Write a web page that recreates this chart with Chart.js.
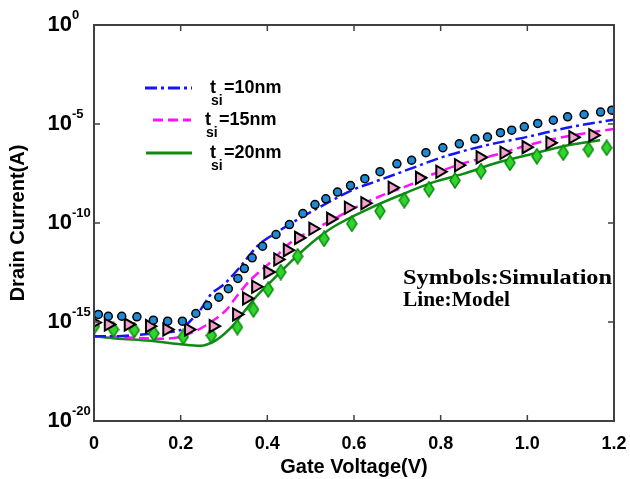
<!DOCTYPE html>
<html>
<head>
<meta charset="utf-8">
<script src="https://cdn.jsdelivr.net/npm/chart.js@4.4.0/dist/chart.umd.min.js"></script>
<style>
  html, body { margin: 0; padding: 0; background: #fff; }
</style>
</head>
<body>
<canvas id="canvasIdVg" width="630" height="479"></canvas>
<script>
// Id-Vg data, current stored as log10(I) in A
// =================================

// symbols: simulation
const simV10 = [0.01, 0.033, 0.064, 0.099, 0.137, 0.170, 0.204, 0.235, 0.262, 0.288, 0.310, 0.332, 0.347, 0.365, 0.389, 0.420, 0.451, 0.482, 0.510, 0.535, 0.562, 0.592, 0.625, 0.660, 0.699, 0.733, 0.766, 0.805, 0.843, 0.879, 0.908, 0.938, 0.964, 0.993, 1.024, 1.060, 1.093, 1.131, 1.169, 1.195];
const simI10 = [-14.62, -14.71, -14.71, -14.74, -14.91, -14.96, -14.96, -14.57, -14.17, -13.75, -13.32, -12.80, -12.30, -11.76, -11.17, -10.58, -10.08, -9.52, -9.07, -8.78, -8.44, -8.11, -7.76, -7.41, -7.01, -6.83, -6.45, -6.20, -6.00, -5.75, -5.66, -5.44, -5.31, -5.14, -4.97, -4.81, -4.64, -4.52, -4.40, -4.30];

const simV15 = [0.0, 0.033, 0.079, 0.128, 0.168, 0.218, 0.275, 0.329, 0.352, 0.373, 0.401, 0.424, 0.446, 0.472, 0.505, 0.546, 0.587, 0.625, 0.688, 0.751, 0.798, 0.841, 0.891, 0.946, 0.997, 1.052, 1.105, 1.151];
const simI15 = [-15.03, -15.13, -15.13, -15.21, -15.38, -15.38, -15.21, -14.62, -13.81, -13.22, -12.48, -11.84, -11.37, -10.75, -10.29, -9.79, -9.23, -9.0, -8.22, -7.72, -7.41, -7.08, -6.68, -6.45, -6.17, -5.95, -5.67, -5.57];

const simV20 = [0.001, 0.045, 0.093, 0.138, 0.206, 0.271, 0.331, 0.368, 0.402, 0.431, 0.470, 0.531, 0.595, 0.660, 0.716, 0.773, 0.833, 0.893, 0.960, 1.022, 1.083, 1.141, 1.183];
const simI20 = [-15.21, -15.38, -15.41, -15.58, -15.75, -15.68, -15.26, -14.37, -13.36, -12.48, -11.68, -10.80, -10.04, -9.40, -8.85, -8.29, -7.85, -7.38, -6.96, -6.63, -6.45, -6.29, -6.20];

// lines: model
const modelV10 = [0, 0.05, 0.1, 0.15, 0.2, 0.22, 0.245, 0.27, 0.3, 0.33, 0.36, 0.38, 0.42, 0.46, 0.5, 0.55, 0.6, 0.65, 0.7, 0.75, 0.8, 0.9, 1.0, 1.1, 1.2];
const modelI10 = [-15.72, -15.72, -15.65, -15.55, -15.4, -15.0, -14.4, -13.6, -13.1, -12.4, -11.6, -11.1, -10.5, -9.95, -9.45, -8.85, -8.3, -7.9, -7.5, -7.1, -6.7, -6.1, -5.65, -5.15, -4.78];

const modelV15 = [0, 0.05, 0.1, 0.15, 0.2, 0.23, 0.26, 0.28, 0.306, 0.333, 0.36, 0.38, 0.41, 0.45, 0.5, 0.55, 0.6, 0.66, 0.73, 0.78, 0.85, 0.93, 1.0, 1.08, 1.2];
const modelI15 = [-15.72, -15.75, -15.8, -15.85, -15.75, -15.5, -15.15, -14.85, -14.37, -13.6, -12.9, -12.5, -11.93, -11.05, -10.4, -9.85, -9.25, -8.65, -8.06, -7.55, -7.0, -6.54, -6.08, -5.67, -5.25];

const modelV20 = [0, 0.05, 0.1, 0.15, 0.2, 0.245, 0.283, 0.32, 0.344, 0.375, 0.413, 0.46, 0.514, 0.552, 0.63, 0.706, 0.782, 0.852, 0.93, 1.006, 1.083, 1.168];
const modelI20 = [-15.72, -15.83, -15.9, -16.0, -16.12, -16.2, -15.9, -15.2, -14.55, -13.7, -12.86, -11.84, -10.8, -10.2, -9.32, -8.6, -7.95, -7.52, -6.96, -6.54, -6.12, -5.82];

// axis ticks
const xTicks = [0, 0.2, 0.4, 0.6, 0.8, 1, 1.2];
const yExponents = [0, -5, -10, -15, -20];

const legendLabels = ['=10nm', '=15nm', '=20nm'];

function pts(xs, ys) {
  return xs.map((x, i) => ({ x: x, y: ys[i] }))
}

// green diamond marker
const diamond = document.createElement('canvas');
diamond.width = 12;
diamond.height = 17;
const dctx = diamond.getContext('2d');
dctx.beginPath();
dctx.moveTo(6, 1); dctx.lineTo(11, 8.5); dctx.lineTo(6, 16); dctx.lineTo(1, 8.5);
dctx.closePath();
dctx.fillStyle = '#2ed52a';
dctx.fill();
dctx.strokeStyle = '#0d8a10';
dctx.lineWidth = 1.5;
dctx.stroke();

const SANS = '"Liberation Sans", Arial, sans-serif';
const SERIF = '"Liberation Serif", "Times New Roman", serif';

// stretch text to a target width (the note is drawn wide)
function wideText(ctx, text, x, y, width) {
  const w = ctx.measureText(text).width;
  ctx.save();
  ctx.translate(x, y);
  ctx.scale(width / w, 1);
  ctx.fillText(text, 0, 0);
  ctx.restore();
}

// frame, inward ticks, exponents, legend, note
const framePlugin = {
  id: 'frame',
  afterDraw(chart) {
    const { ctx, chartArea: a, scales } = chart;
    ctx.save();
    ctx.strokeStyle = '#404040';
    ctx.lineWidth = 2;
    ctx.strokeRect(a.left, a.top, a.right - a.left, a.bottom - a.top);
    ctx.lineWidth = 1.5;
    ctx.beginPath();
    xTicks.forEach(v => {
      const px = scales.x.getPixelForValue(v);
      ctx.moveTo(px, a.bottom); ctx.lineTo(px, a.bottom - 6);
      ctx.moveTo(px, a.top); ctx.lineTo(px, a.top + 6);
    });
    yExponents.forEach(v => {
      const py = scales.y.getPixelForValue(v);
      ctx.moveTo(a.left, py); ctx.lineTo(a.left + 6, py);
      ctx.moveTo(a.right, py); ctx.lineTo(a.right - 6, py);
    });
    ctx.stroke();

    // superscript exponents for 10^n
    ctx.fillStyle = '#000';
    ctx.font = 'bold 13px ' + SANS;
    ctx.textAlign = 'left';
    ctx.textBaseline = 'middle';
    yExponents.forEach(v => {
      const py = scales.y.getPixelForValue(v);
      ctx.fillText(String(v), 72, py - 10);
    });

    // legend
    const rows = [
      { y: 88, x0: 145, x1: 192, color: '#1414ff', dash: [12, 4, 3, 4], tx: 210 },
      { y: 120, x0: 153, x1: 191, color: '#ff10ff', dash: [10, 5], tx: 205 },
      { y: 153, x0: 146, x1: 192, color: '#0f8a12', dash: [], tx: 210 }
    ];
    rows.forEach((r, i) => {
      ctx.setLineDash(r.dash);
      ctx.strokeStyle = r.color;
      ctx.lineWidth = 3;
      ctx.beginPath();
      ctx.moveTo(r.x0, r.y); ctx.lineTo(r.x1, r.y);
      ctx.stroke();
      ctx.setLineDash([]);
      ctx.fillStyle = '#000';
      ctx.textBaseline = 'alphabetic';
      ctx.font = 'bold 18px ' + SANS;
      ctx.fillText('t', r.tx, r.y + 5);
      ctx.font = 'bold 14px ' + SANS;
      ctx.fillText('si', r.tx + 1, r.y + 17);
      ctx.font = 'bold 18px ' + SANS;
      ctx.fillText(legendLabels[i], r.tx + 14, r.y + 5);
    });

    // note
    ctx.font = 'bold 20px ' + SERIF;
    wideText(ctx, 'Symbols:Simulation', 403, 284, 209);
    wideText(ctx, 'Line:Model', 403, 306, 107);
    ctx.restore();
  }
};

function chartIdVg() {
  const ctx = document.getElementById('canvasIdVg').getContext('2d');
  const idVgChart = new Chart(ctx, {
    type: 'scatter',
    data: {
      datasets: [
        {
          label: 'tsi=10nm model', data: pts(modelV10, modelI10), showLine: true,
          borderColor: '#1414ff', borderWidth: 2.5, borderDash: [12, 4, 3, 4],
          pointRadius: 0, cubicInterpolationMode: 'monotone', order: 3
        },
        {
          label: 'tsi=15nm model', data: pts(modelV15, modelI15), showLine: true,
          borderColor: '#ff10ff', borderWidth: 2.5, borderDash: [10, 5],
          pointRadius: 0, cubicInterpolationMode: 'monotone', order: 3
        },
        {
          label: 'tsi=20nm model', data: pts(modelV20, modelI20), showLine: true,
          borderColor: '#0f8a12', borderWidth: 2.5,
          pointRadius: 0, cubicInterpolationMode: 'monotone', order: 3
        },
        {
          label: 'tsi=10nm sim', data: pts(simV10, simI10),
          pointStyle: 'circle', pointRadius: 4, backgroundColor: '#1e8ad6',
          borderColor: '#000', pointBorderWidth: 1.5, order: 1
        },
        {
          label: 'tsi=15nm sim', data: pts(simV15, simI15),
          pointStyle: 'triangle', pointRotation: 90, pointRadius: 7, backgroundColor: '#f2a2cc',
          borderColor: '#000', pointBorderWidth: 2, order: 2
        },
        {
          label: 'tsi=20nm sim', data: pts(simV20, simI20),
          pointStyle: diamond, order: 2
        }
      ]
    },
    options: {
      responsive: false,
      animation: false,
      devicePixelRatio: 1,
      layout: { padding: { top: 25, right: 16, left: 0, bottom: 0 } },
      plugins: { legend: { display: false }, tooltip: { enabled: false } },
      scales: {
        x: {
          type: 'linear', min: 0, max: 1.2,
          afterFit: s => { s.height = 58; s.paddingLeft = 0; s.paddingRight = 0 },
          afterBuildTicks: s => { s.ticks = xTicks.map(v => ({ value: v })) },
          ticks: {
            padding: 12, color: '#000', maxRotation: 0, autoSkip: false,
            font: { family: SANS, weight: 'bold', size: 18 }
          },
          grid: { display: false, drawTicks: false },
          border: { display: false },
          title: {
            display: true, text: 'Gate Voltage(V)', color: '#000',
            font: { family: SANS, weight: 'bold', size: 20 }, padding: { top: 0, bottom: 0 }
          }
        },
        y: {
          type: 'linear', min: -20, max: 0,
          afterFit: s => { s.width = 94; s.paddingTop = 0; s.paddingBottom = 0 },
          afterBuildTicks: s => { s.ticks = yExponents.map(v => ({ value: v })) },
          ticks: {
            padding: 22, color: '#000',
            callback: () => '10',
            font: { family: SANS, weight: 'bold', size: 22 }
          },
          grid: { display: false, drawTicks: false },
          border: { display: false },
          title: {
            display: true, text: 'Drain Current(A)', color: '#000',
            font: { family: SANS, weight: 'bold', size: 20 }, padding: { top: 6, bottom: 0 }
          }
        }
      }
    },
    plugins: [framePlugin]
  })
}

chartIdVg()
</script>
</body>
</html>
